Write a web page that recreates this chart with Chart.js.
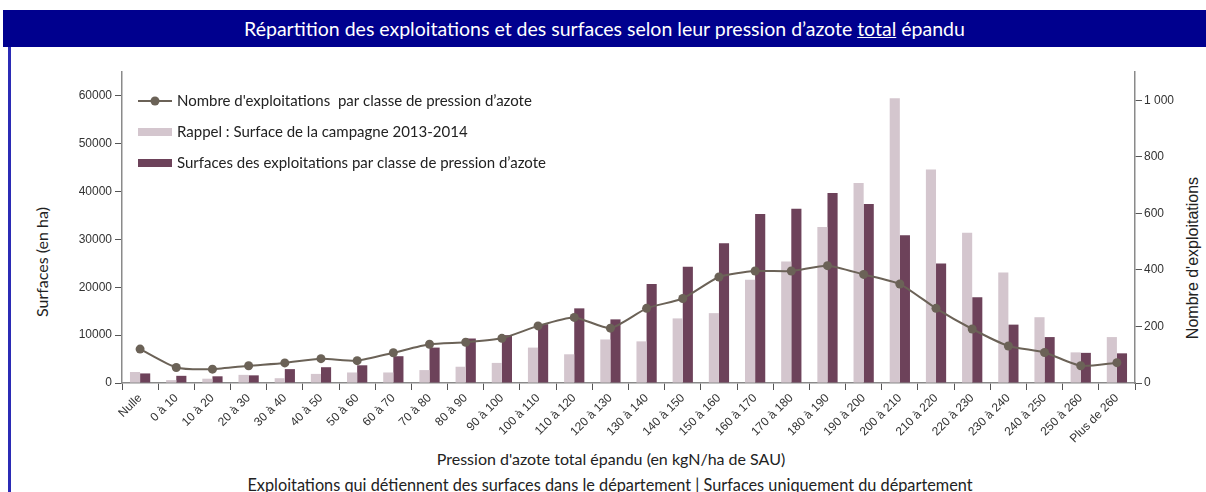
<!DOCTYPE html>
<html>
<head>
<meta charset="utf-8">
<script src="https://cdn.jsdelivr.net/npm/chart.js@4.4.0/dist/chart.umd.min.js"></script>
<style>
  body { margin: 0; background: #fff; width: 1206px; height: 492px; overflow: hidden; position: relative; font-family: Lato, sans-serif; }
  #bar { position: absolute; left: 3px; top: 10px; width: 1203px; height: 37px; background: #00008e; color: #fff; font-size: 19.5px; text-align: center; line-height: 37px; }
  #edge { position: absolute; left: 8px; top: 47px; width: 3px; height: 445px; background: #2b2bb5; }
  #wrap { position: absolute; left: 0; top: 0; width: 1206px; height: 492px; }
  #foot { position: absolute; left: 0; width: 1220px; top: 475px; text-align: center; font-size: 16.3px; color: #222; }
  #xt { position: absolute; left: 0; width: 1222px; top: 449px; text-align: center; font-size: 16px; color: #222; }
  .vt { position: absolute; width: 300px; height: 20px; line-height: 20px; text-align: center; color: #222; transform: rotate(-90deg); }
  #yl { left: -108px; top: 252px; font-size: 16px; font-family: Lato, sans-serif; }
  #yr { left: 1043px; top: 248px; font-size: 16px; font-family: "Liberation Sans", sans-serif; }
</style>
</head>
<body>
<div id="bar">Répartition des exploitations et des surfaces selon leur pression d’azote <u>total</u> épandu</div>
<div id="edge"></div>
<div id="xt">Pression d'azote total épandu (en kgN/ha de SAU)</div>
<div id="foot">Exploitations qui détiennent des surfaces dans le département | Surfaces uniquement du département</div>
<div class="vt" id="yl">Surfaces (en ha)</div>
<div class="vt" id="yr">Nombre d'exploitations</div>
<div id="wrap"><canvas id="myChart"></canvas></div>
<script>
// classes de pression d'azote
const classes = ["Nulle", "0 à 10", "10 à 20", "20 à 30", "30 à 40", "40 à 50", "50 à 60", "60 à 70",
    "70 à 80", "80 à 90", "90 à 100", "100 à 110", "110 à 120", "120 à 130", "130 à 140", "140 à 150",
    "150 à 160", "160 à 170", "170 à 180", "180 à 190", "190 à 200", "200 à 210", "210 à 220",
    "220 à 230", "230 à 240", "240 à 250", "250 à 260", "Plus de 260"];

// nombre d'exploitations (axe de droite)
const nbExploitations = [120, 55, 49, 61, 71, 86, 79, 107, 137, 144, 158, 202, 232, 194, 264, 299,
    375, 396, 396, 415, 384, 350, 264, 191, 131, 108, 61, 72];

// rappel campagne 2013-2014 (ha)
const surfacesRappel = [2300, 600, 900, 1700, 1000, 1900, 2200, 2200, 2700, 3400, 4200, 7400, 6000,
    9100, 8700, 13500, 14600, 21600, 25400, 32600, 41800, 59500, 44600, 31400, 23100, 13750, 6400, 9600];

// surfaces des exploitations (ha)
const surfaces = [2000, 1500, 1400, 1600, 2900, 3300, 3700, 5600, 7400, 9300, 10000, 12300, 15600,
    13300, 20700, 24300, 29200, 35300, 36400, 39700, 37400, 30900, 25000, 17900, 12200, 9600, 6300, 6200];

const leftTicks = [0, 10000, 20000, 30000, 40000, 50000, 60000];
const rightTicks = [0, 200, 400, 600, 800, 1000];

const tickFont = { family: "Liberation Sans", size: 12 };
const axisColor = "#8a8a8a";

function spaced(v) {
    return String(v).replace(/\B(?=(\d{3})+(?!\d))/g, " ");
}

// legende dessinee dans la zone du graphique
const insideLegend = {
    id: "insideLegend",
    afterDraw(chart) {
        const c = chart.ctx;
        const ds = chart.data.datasets;
        c.save();
        c.font = "15px Lato";
        c.textBaseline = "middle";
        // ligne
        c.strokeStyle = ds[0].borderColor;
        c.lineWidth = 2;
        c.beginPath(); c.moveTo(138, 101); c.lineTo(172, 101); c.stroke();
        c.fillStyle = ds[0].borderColor;
        c.beginPath(); c.arc(155, 101, 4.5, 0, Math.PI * 2); c.fill();
        c.fillStyle = "#222";
        c.fillText(ds[0].label, 177, 101);
        // barres
        c.fillStyle = ds[1].backgroundColor;
        c.fillRect(138, 128, 34, 8);
        c.fillStyle = "#222";
        c.fillText(ds[1].label, 177, 132);
        c.fillStyle = ds[2].backgroundColor;
        c.fillRect(138, 159, 34, 8);
        c.fillStyle = "#222";
        c.fillText(ds[2].label, 177, 163);
        c.restore();
    }
};

let ctx = document.getElementById("myChart");

let myChart = new Chart(ctx, {
    data: {
        labels: classes,
        datasets: [{
            type: "line",
            label: "Nombre d'exploitations  par classe de pression d’azote",
            data: nbExploitations,
            yAxisID: "y1",
            borderColor: "#6b6257",
            backgroundColor: "#6b6257",
            borderWidth: 2,
            pointRadius: 4.5,
            pointBorderWidth: 0,
            pointBackgroundColor: "#6b6257",
            tension: 0.2,
            order: 0
        }, {
            type: "bar",
            label: "Rappel : Surface de la campagne 2013-2014",
            data: surfacesRappel,
            yAxisID: "y",
            backgroundColor: "#d4c6ce",
            categoryPercentage: 0.56,
            barPercentage: 1,
            order: 1
        }, {
            type: "bar",
            label: "Surfaces des exploitations par classe de pression d’azote",
            data: surfaces,
            yAxisID: "y",
            backgroundColor: "#6d425a",
            categoryPercentage: 0.56,
            barPercentage: 1,
            order: 1
        }]
    },
    options: {
        responsive: true,
        maintainAspectRatio: false,
        animation: false,
        layout: { padding: { left: 30, right: 2, top: 72, bottom: 22 } },
        plugins: {
            legend: { display: false },
            tooltip: { enabled: false }
        },
        scales: {
            x: {
                offset: true,
                grid: { display: true, offset: true, drawOnChartArea: false, drawTicks: true, tickLength: 7, color: "#555" },
                border: { display: true, color: axisColor, width: 1.5 },
                ticks: { autoSkip: false, maxRotation: 45, minRotation: 45, padding: 1, color: "#333", font: { family: "Liberation Sans", size: 12 } },
                afterFit(s) { s.height = 87; }
            },
            y: {
                position: "left",
                min: 0,
                max: 65000,
                afterBuildTicks(s) { s.ticks = leftTicks.map(v => ({ value: v })); },
                grid: { drawOnChartArea: false, tickLength: 7, color: "#555" },
                border: { display: true, color: axisColor, width: 1.5 },
                ticks: { padding: 3, color: "#333", font: tickFont, callback: v => String(v) },
                afterFit(s) { s.width = 92; }
            },
            y1: {
                position: "right",
                min: 0,
                max: 1100,
                afterBuildTicks(s) { s.ticks = rightTicks.map(v => ({ value: v })); },
                grid: { drawOnChartArea: false, tickLength: 7, color: "#555" },
                border: { display: true, color: axisColor, width: 1.5 },
                ticks: { padding: 2, color: "#333", font: tickFont, callback: v => spaced(v) },
                afterFit(s) { s.width = 69; }
            }
        }
    },
    plugins: [insideLegend]
});
</script>
</body>
</html>
